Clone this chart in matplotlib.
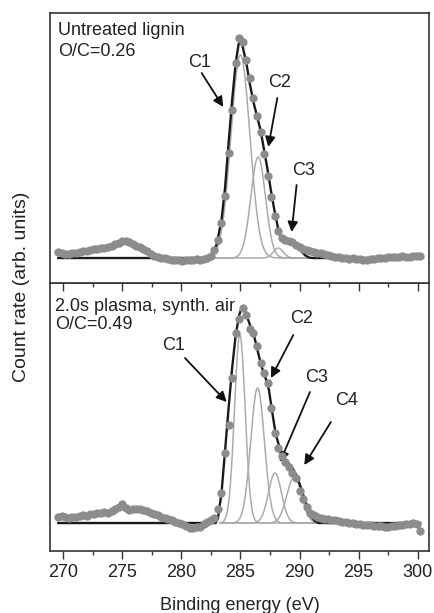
from matplotlib import pyplot as plt
from matplotlib.ticker import MultipleLocator
from numpy import linspace, exp

plt.rcParams['font.family'] = ['Liberation Sans', 'DejaVu Sans']
plt.rcParams['font.size'] = 13

# binding energy of the measured points (eV)
energy = [269.6, 269.9, 270.2, 270.5, 270.8, 271.1, 271.4, 271.7, 272.0, 272.3,
          272.6, 272.9, 273.2, 273.5, 273.8, 274.1, 274.4, 274.7, 275.0, 275.3,
          275.6, 275.9, 276.2, 276.5, 276.8, 277.1, 277.4, 277.7, 278.0, 278.3,
          278.6, 278.9, 279.2, 279.5, 279.8, 280.1, 280.4, 280.7, 281.0, 281.3,
          281.6, 281.9, 282.2, 282.5, 282.8, 283.1, 283.4, 283.7, 284.0, 284.3,
          284.6, 284.9, 285.2, 285.5, 285.8, 286.1, 286.4, 286.7, 287.0, 287.3,
          287.6, 287.9, 288.2, 288.5, 288.8, 289.1, 289.4, 289.7, 290.0, 290.3,
          290.6, 290.9, 291.2, 291.5, 291.8, 292.1, 292.4, 292.7, 293.0, 293.3,
          293.6, 293.9, 294.2, 294.5, 294.8, 295.1, 295.4, 295.7, 296.0, 296.3,
          296.6, 296.9, 297.2, 297.5, 297.8, 298.1, 298.4, 298.7, 299.0, 299.3,
          299.6, 299.9, 300.2]

# count rate above background (arb. units)
counts_untreated = [6, 5, 4, 4, 5, 5, 6, 7, 7, 8,
                    9, 9, 10, 10, 11, 12, 14, 15, 17, 17,
                    16, 14, 12, 11, 9, 7, 4, 2, 1, 0,
                    0, -1, -2, -2, -2, -3, -2, -2, -2, -1,
                    -2, -1, 0, 2, 8, 18, 35, 62, 105, 148,
                    195, 220, 216, 198, 180, 160, 142, 126, 104, 82,
                    61, 42, 27, 20, 18, 17, 16, 13, 11, 9,
                    8, 7, 6, 5, 5, 4, 3, 2, 1, 1,
                    0, 0, -1, 0, -1, -1, -2, -2, -1, -1,
                    0, 0, 0, 1, 1, 1, 1, 2, 1, 1,
                    2, 2, 2]

counts_plasma = [6, 7, 6, 5, 6, 6, 7, 8, 7, 9,
                 9, 10, 10, 11, 10, 12, 14, 16, 19, 15,
                 13, 14, 14, 14, 13, 12, 10, 9, 8, 6,
                 5, 4, 3, 1, 0, -1, -3, -5, -5, -4,
                 -4, -1, 1, 3, 5, 14, 30, 70, 98, 145,
                 190, 204, 215, 208, 194, 190, 177, 160, 150, 140,
                 115, 90, 75, 67, 61, 56, 50, 45, 32, 24,
                 16, 10, 8, 6, 5, 4, 4, 3, 3, 2,
                 1, 1, 0, 0, -1, -1, -2, -2, -2, -3,
                 -3, -3, -4, -4, -3, -3, -2, -2, -1, -1,
                 0, -1, -8]

# fit envelope (black line)
env_e_untreated = [269.6, 282.2, 282.6, 283.0, 283.4, 283.7, 284.0, 284.3, 284.6, 284.85,
                   285.0, 285.2, 285.5, 285.8, 286.1, 286.4, 286.7, 287.0, 287.3, 287.6,
                   287.9, 288.2, 288.4, 288.7, 289.0, 289.3, 289.6, 289.9, 290.2, 290.5,
                   290.8, 291.1, 300.3]
env_untreated = [0, 0, 3, 14, 38, 70, 115, 158, 195, 214,
                 217, 211, 195, 174, 156, 142, 128, 108, 88, 66,
                 46, 29, 21, 18, 18, 17.5, 15.5, 11, 6, 2.5,
                 0.5, 0, 0]

env_e_plasma = [269.6, 282.9, 283.1, 283.4, 283.7, 284.0, 284.3, 284.6, 284.9, 285.1,
                285.3, 285.6, 285.9, 286.2, 286.5, 286.8, 287.1, 287.4, 287.7, 288.0,
                288.3, 288.6, 288.9, 289.2, 289.5, 289.8, 290.1, 290.4, 290.7, 291.0,
                291.3, 291.6, 300.2]
env_plasma = [0, 0, 5, 30, 72, 115, 155, 188, 208, 215,
              214, 205, 195, 185, 170, 156, 146, 134, 110, 88,
              76, 67, 62, 58, 53, 46, 36, 25, 14, 6,
              2, 0, 0]

# fit components: centre (eV), height, sigma (eV)
peak_untreated = [285.0, 286.5, 288.2]
height_untreated = [203, 101, 10]
sigma_untreated = [0.80, 0.62, 0.42]

peak_plasma = [284.95, 286.45, 287.92, 289.55]
height_plasma = [188, 135, 50, 46]
sigma_plasma = [0.45, 0.58, 0.55, 0.62]

dot_col = '#8c8c8c'
comp_col = '#ababab'
arrow = dict(arrowstyle='-|>', color='#111111', lw=1.3, mutation_scale=15,
             shrinkA=0, shrinkB=0)

fig = plt.figure(figsize=(4.35, 6.13), dpi=100)
ax1 = fig.add_axes([0.115, 0.5383, 0.8713, 0.4405])
ax2 = fig.add_axes([0.115, 0.1011, 0.8713, 0.4372])
ax1.set_zorder(3)

# top panel: untreated lignin
e = linspace(282.3, 290.9, 300)
for c, h, s in zip(peak_untreated, height_untreated, sigma_untreated):
    ax1.plot(e, h * exp(-(e - c) ** 2 / (2 * s ** 2)), color=comp_col, lw=1.1, zorder=2)
ax1.plot(env_e_untreated, env_untreated, color='#1a1a1a', lw=1.7, zorder=3)
ax1.plot(energy, counts_untreated, 'o', color=dot_col, ms=6, mec='none', zorder=4)

# bottom panel: 2.0 s plasma
e = linspace(283.3, 291.6, 300)
for c, h, s in zip(peak_plasma, height_plasma, sigma_plasma):
    ax2.plot(e, h * exp(-(e - c) ** 2 / (2 * s ** 2)), color=comp_col, lw=1.1, zorder=2)
ax2.plot(env_e_plasma, env_plasma, color='#1a1a1a', lw=1.7, zorder=3)
ax2.plot(energy, counts_plasma, 'o', color=dot_col, ms=6, mec='none', zorder=4)

ax1.set_ylim(-25, 245)
ax2.set_ylim(-28, 240)

for ax in (ax1, ax2):
    ax.set_xlim(268.9, 300.95)
    ax.set_yticks([])
    ax.xaxis.set_major_locator(MultipleLocator(5))
    ax.xaxis.set_minor_locator(MultipleLocator(2.5))
    ax.tick_params(axis='x', which='major', direction='out', length=5.5, width=1.0,
                   color='#333333', labelcolor='#222222', pad=4)
    ax.tick_params(axis='x', which='minor', direction='out', length=3.2, width=1.0,
                   color='#333333')
    for sp in ax.spines.values():
        sp.set_color('#333333')
        sp.set_linewidth(1.2)
ax1.tick_params(axis='x', labelbottom=False)

tc = '#222222'
ax1.text(0.022, 0.9185, 'Untreated lignin', transform=ax1.transAxes, color=tc)
ax1.text(0.022, 0.8407, 'O/C=0.26', transform=ax1.transAxes, color=tc)
ax2.text(0.013, 0.8955, '2.0s plasma, synth. air', transform=ax2.transAxes, color=tc)
ax2.text(0.013, 0.827, 'O/C=0.49', transform=ax2.transAxes, color=tc)

ax1.text(281.58, 196, 'C1', ha='center', va='center', color=tc)
ax1.annotate('', xy=(283.55, 151), xytext=(281.72, 185), arrowprops=arrow)
ax1.text(288.34, 176, 'C2', ha='center', va='center', color=tc)
ax1.annotate('', xy=(287.36, 111), xytext=(288.12, 160), arrowprops=arrow)
ax1.text(290.3, 88, 'C3', ha='center', va='center', color=tc)
ax1.annotate('', xy=(289.33, 26), xytext=(289.75, 73), arrowprops=arrow)

ax2.text(279.32, 178, 'C1', ha='center', va='center', color=tc)
ax2.annotate('', xy=(283.84, 121), xytext=(280.31, 165), arrowprops=arrow)
ax2.text(290.17, 205, 'C2', ha='center', va='center', color=tc)
ax2.annotate('', xy=(287.58, 145), xytext=(289.47, 188), arrowprops=arrow)
ax2.text(291.44, 146, 'C3', ha='center', va='center', color=tc)
ax2.annotate('', xy=(288.34, 61), xytext=(290.88, 131), arrowprops=arrow)
ax2.text(294.0, 123, 'C4', ha='center', va='center', color=tc)
ax2.annotate('', xy=(290.4, 58), xytext=(292.65, 101), arrowprops=arrow)

fig.text(0.5506, 0.005, 'Binding energy (eV)', ha='center', va='baseline', color=tc)
fig.text(0.05, 0.532, 'Count rate (arb. units)', rotation=90, ha='center', va='center',
         color=tc, fontsize=14)

fig.savefig('out.png', dpi=100)
